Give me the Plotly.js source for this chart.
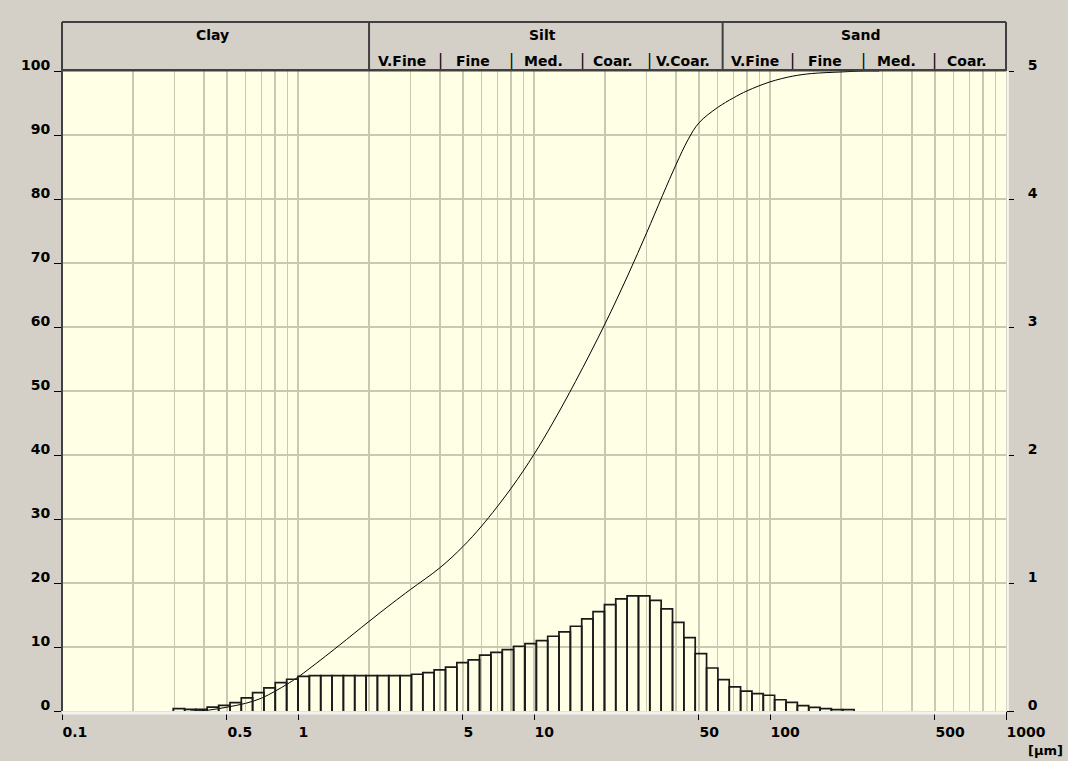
<!DOCTYPE html>
<html>
<head>
<meta charset="utf-8">
<script src="https://cdn.plot.ly/plotly-3.0.1.min.js"></script>
<style>
html,body{margin:0;padding:0;background:#d4d0c8;}
#chart{width:1068px;height:761px;}
</style>
</head>
<body>
<div id="chart"></div>
<script>
// ---- Data ----
// Histogram class edges (µm)
const binEdges = [0.296, 0.331, 0.369, 0.412, 0.461, 0.515, 0.575, 0.642, 0.717, 0.801, 0.895,
  1.000, 1.117, 1.248, 1.394, 1.557, 1.739, 1.943, 2.170, 2.424, 2.708, 3.025, 3.380, 3.775,
  4.217, 4.711, 5.263, 5.879, 6.567, 7.336, 8.195, 9.155, 10.23, 11.43, 12.76, 14.26, 15.93,
  17.79, 19.88, 22.20, 24.80, 27.71, 30.95, 34.58, 38.63, 43.15, 48.20, 53.85, 60.15, 67.19,
  75.06, 83.85, 93.66, 104.6, 116.9, 130.6, 145.9, 162.9, 182.0, 203.3, 227.1];
// Histogram values (right axis, 0-5)
const binValues = [0.018, 0.013, 0.013, 0.031, 0.044, 0.065, 0.102, 0.143, 0.180, 0.221, 0.248,
  0.270, 0.276, 0.276, 0.276, 0.276, 0.276, 0.276, 0.276, 0.276, 0.276, 0.287, 0.300, 0.321,
  0.342, 0.378, 0.399, 0.436, 0.458, 0.479, 0.506, 0.526, 0.550, 0.584, 0.618, 0.662, 0.719,
  0.777, 0.831, 0.876, 0.899, 0.899, 0.865, 0.798, 0.693, 0.573, 0.448, 0.336, 0.245, 0.188,
  0.156, 0.135, 0.123, 0.088, 0.068, 0.042, 0.029, 0.018, 0.010, 0.010];
// Cumulative curve (left axis, %)
const cumSize = [0.35, 0.42, 0.5, 0.6, 0.7, 0.8, 0.9, 1.0, 1.25, 1.5, 2, 2.5, 3, 4, 5, 6, 8, 10,
  12, 15, 20, 25, 30, 35, 40, 45, 50, 60, 70, 80, 100, 125, 150, 200, 250, 290];
const cumPct = [0, 0.15, 0.6, 1.2, 2.0, 3.1, 4.2, 5.3, 8.0, 10.3, 14.0, 16.8, 19.0, 22.4, 25.7,
  28.9, 34.8, 40.1, 45.0, 51.5, 60.5, 68.1, 74.7, 80.5, 85.4, 89.3, 91.9, 94.3, 95.8, 96.9,
  98.3, 99.2, 99.6, 99.85, 100, 100];

// Axis ticks
const xTickVals = [0.1, 0.5, 1, 5, 10, 50, 100, 500, 1000];
const xTickText = ['0.1', '0.5', '1', '5', '10', '50', '100', '500', '1000'];
const leftTickVals = [0, 10, 20, 30, 40, 50, 60, 70, 80, 90, 100];
const rightTickVals = [0, 1, 2, 3, 4, 5];
const gridDecades = [0.1, 1, 10, 100];
const gridMultiples = [1, 2, 3, 4, 5, 6, 7, 8, 9];

// Header classes
const mainClassNames = ['Clay', 'Silt', 'Sand'];
const mainClassBounds = [0.1, 2, 63, 1000];
const subClassNames = ['V.Fine', 'Fine', 'Med.', 'Coar.', 'V.Coar.', 'V.Fine', 'Fine', 'Med.', 'Coar.'];
const subClassBounds = [2, 4, 8, 16, 31, 63, 125, 250, 500, 1000];
const subSeparators = [4, 8, 16, 31, 125, 250, 500];

// ---- Build traces ----
const hx = [], hy = [];
for (let i = 0; i < binValues.length; i++) {
  hx.push(binEdges[i], binEdges[i], binEdges[i + 1], binEdges[i + 1], null);
  hy.push(0, binValues[i], binValues[i], 0, null);
}
const gridVals = [];
gridDecades.forEach(d => gridMultiples.forEach(m => gridVals.push(+(d * m).toPrecision(3))));
gridVals.push(1000);

const FONT = {family: 'DejaVu Sans', size: 14, color: '#000', weight: 'bold'};
const GRID = '#c9c8b0';
const DARK = '#404040';
const HDR_TOP = 1 + 49 / 640;
const ROW1 = 1 + 36 / 640;
const ROW2 = 1 + 10 / 640;

const traces = [
  {x: hx, y: hy, yaxis: 'y2', type: 'scatter', mode: 'lines',
   line: {color: '#1a1a1a', width: 1.7}, hoverinfo: 'skip', showlegend: false},
  {x: cumSize, y: cumPct, yaxis: 'y', type: 'scatter', mode: 'lines',
   line: {color: '#000', width: 1, shape: 'spline', smoothing: 1}, hoverinfo: 'skip', showlegend: false}
];

const annotations = [];
for (let i = 0; i < mainClassNames.length; i++) {
  annotations.push({xref: 'x', yref: 'paper',
    x: (Math.log10(mainClassBounds[i]) + Math.log10(mainClassBounds[i + 1])) / 2,
    y: ROW1, text: mainClassNames[i], showarrow: false, xanchor: 'center', yanchor: 'middle',
    xshift: -3, font: FONT});
}
for (let i = 0; i < subClassNames.length; i++) {
  annotations.push({xref: 'x', yref: 'paper',
    x: (Math.log10(subClassBounds[i]) + Math.log10(subClassBounds[i + 1])) / 2,
    y: ROW2, text: subClassNames[i], showarrow: false, xanchor: 'center', yanchor: 'middle',
    xshift: -3, font: FONT});
}
subSeparators.forEach(v => annotations.push({xref: 'x', yref: 'paper', x: Math.log10(v), y: ROW2 + 0.002,
  text: '|', showarrow: false, xanchor: 'center', yanchor: 'middle',
  font: {family: 'DejaVu Sans', size: 15, color: '#000'}}));
annotations.push({xref: 'paper', yref: 'paper', x: 1, y: -39 / 640, xshift: 20, text: '[µm]',
  showarrow: false, xanchor: 'left', yanchor: 'middle', font: {family: 'DejaVu Sans', size: 13, color: '#000', weight: 'bold'}});

const shapes = [
  // bottom / right light borders
  {type: 'line', xref: 'paper', yref: 'paper', x0: 0, x1: 1, y0: -0.003, y1: -0.003, line: {color: '#f2f2ee', width: 3}},
  {type: 'line', xref: 'paper', yref: 'paper', x0: 1.002, x1: 1.002, y0: 0, y1: 1, line: {color: '#f4f4f0', width: 2}},
  // header frame
  {type: 'line', xref: 'paper', yref: 'paper', x0: 0, x1: 1, y0: HDR_TOP, y1: HDR_TOP, line: {color: DARK, width: 2}},
  {type: 'line', xref: 'paper', yref: 'paper', x0: 1, x1: 1, y0: 1, y1: HDR_TOP, line: {color: DARK, width: 2}},
  {type: 'line', xref: 'paper', yref: 'paper', x0: 0, x1: 0, y0: 0, y1: HDR_TOP, line: {color: DARK, width: 2}},
  {type: 'line', xref: 'paper', yref: 'paper', x0: 0, x1: 1, y0: 1.001, y1: 1.001, line: {color: DARK, width: 2.5}},
  {type: 'line', xref: 'x', yref: 'paper', x0: mainClassBounds[1], x1: mainClassBounds[1], y0: 1, y1: HDR_TOP, line: {color: DARK, width: 2}},
  {type: 'line', xref: 'x', yref: 'paper', x0: mainClassBounds[2], x1: mainClassBounds[2], y0: 1, y1: HDR_TOP, line: {color: DARK, width: 2}}
];

const layout = {
  width: 1068, height: 761,
  margin: {l: 62, r: 62, t: 71, b: 50, pad: 0},
  paper_bgcolor: '#d4d0c8', plot_bgcolor: '#ffffe6',
  showlegend: false,
  xaxis: {type: 'log', range: [-1, 3], tickmode: 'array', tickvals: xTickVals, ticktext: xTickText,
    ticks: 'outside', ticklen: 8, tickwidth: 1, tickcolor: '#000', ticklabelposition: 'outside right',
    ticklabelstandoff: 8, tickfont: FONT, showgrid: true, gridcolor: GRID, gridwidth: 1.3,
    zeroline: false, showline: false, fixedrange: true,
    minor: {tickmode: 'array', tickvals: gridVals, showgrid: true, gridcolor: GRID, gridwidth: 1.3, ticks: ''}},
  yaxis: {range: [0, 100], tickmode: 'array', tickvals: leftTickVals, ticks: 'outside', ticklen: 7,
    tickwidth: 1, tickcolor: '#000', ticklabelposition: 'outside top', ticklabelstandoff: 8,
    ticklabelshift: 4, tickfont: FONT, showgrid: true, gridcolor: GRID, gridwidth: 1.3,
    zeroline: false, showline: false, fixedrange: true},
  yaxis2: {range: [0, 5], overlaying: 'y', side: 'right', tickmode: 'array', tickvals: rightTickVals,
    ticks: 'outside', ticklen: 7, tickwidth: 1, tickcolor: '#000', ticklabelposition: 'outside top',
    ticklabelstandoff: 18, ticklabelshift: 4, tickfont: FONT, showgrid: false, zeroline: false,
    showline: false, fixedrange: true},
  shapes: shapes,
  annotations: annotations
};

Plotly.newPlot('chart', traces, layout, {displayModeBar: false, staticPlot: true});
</script>
</body>
</html>
